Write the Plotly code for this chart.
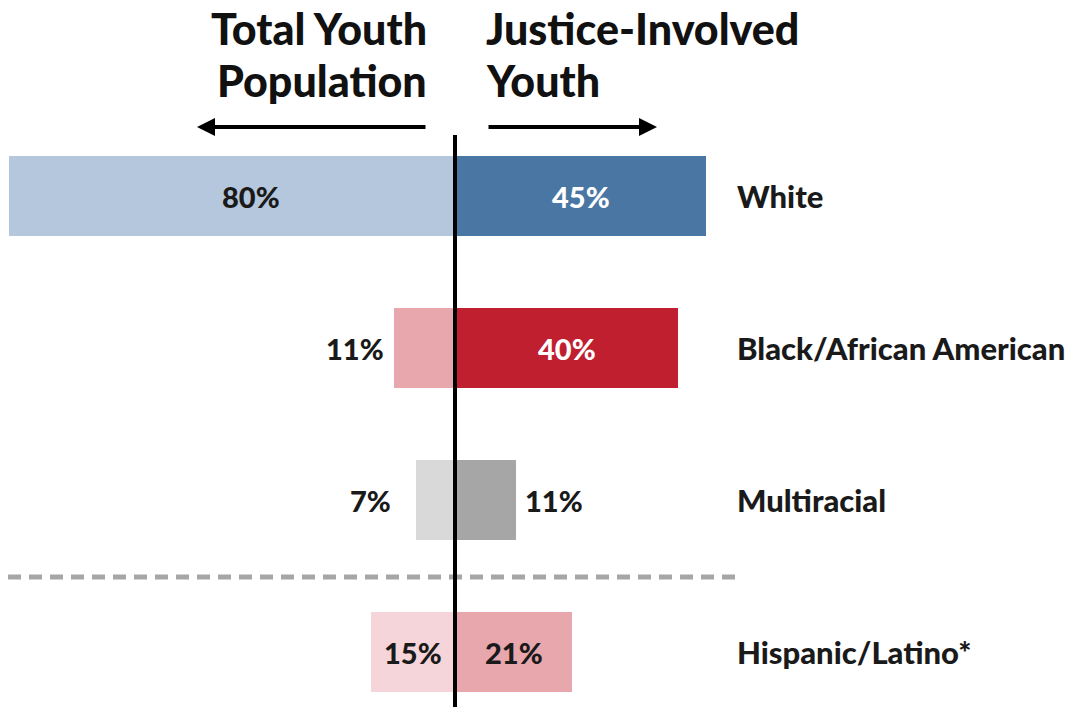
import plotly.graph_objects as go

categories = ["White", "Black/African American", "Multiracial", "Hispanic/Latino*"]
total_youth = [80, 11, 7, 15]
justice_involved = [45, 40, 11, 21]
left_colors = ["#b4c7dc", "#e8a6ad", "#d9d9d9", "#f5d5d9"]
right_colors = ["#4a76a4", "#c01f30", "#a6a6a6", "#e8a6ad"]
left_label_pos = ["inside", "outside", "outside", "inside"]
right_label_pos = ["inside", "inside", "outside", "inside"]
left_text_colors = ["#1a1a1a", "#1a1a1a", "#1a1a1a", "#1a1a1a"]
right_text_colors = ["#ffffff", "#ffffff", "#1a1a1a", "#1a1a1a"]

W, H = 1081, 707
FONT = "Lato, 'Open Sans', sans-serif"
WEIGHT = 900
ypos = list(range(len(categories)))

fig = go.Figure()
fig.add_trace(go.Bar(
    y=ypos, x=[-v for v in total_youth], orientation="h",
    marker=dict(color=left_colors, line=dict(width=0)), width=0.53,
    hoverinfo="skip", showlegend=False))
fig.add_trace(go.Bar(
    y=ypos, x=justice_involved, orientation="h",
    marker=dict(color=right_colors, line=dict(width=0)), width=0.53,
    hoverinfo="skip", showlegend=False))


def f(size, color="#1a1a1a"):
    return dict(size=size, color=color, family=FONT, weight=WEIGHT)


ann = []
lab_font = 29
for i, c in enumerate(categories):
    v = total_youth[i]
    if left_label_pos[i] == "inside":
        ann.append(dict(x=-v / 2, y=i, text=f"{v}%", showarrow=False, xanchor="center",
                        xshift=(19 if v > 50 else 0), font=f(lab_font, left_text_colors[i])))
    else:
        ann.append(dict(x=-v, y=i, text=f"{v}%", showarrow=False, xanchor="right",
                        xshift=-8 if i == 1 else -23, font=f(lab_font, left_text_colors[i])))
    v = justice_involved[i]
    if right_label_pos[i] == "inside":
        ann.append(dict(x=v / 2, y=i, text=f"{v}%", showarrow=False, xanchor="center",
                        font=f(lab_font, right_text_colors[i])))
    else:
        ann.append(dict(x=v, y=i, text=f"{v}%", showarrow=False, xanchor="left",
                        xshift=7, font=f(lab_font, right_text_colors[i])))
    ann.append(dict(x=735 / W, xref="paper", y=i, text=c, showarrow=False,
                    xanchor="left", font=f(31)))

# Headers
hdr = 43
for txt, yy in (("Total Youth", 28), ("Population", 80)):
    ann.append(dict(x=429 / W, y=1 - yy / H, xref="paper", yref="paper", text=txt,
                    showarrow=False, xanchor="right", yanchor="middle", font=f(hdr, "#111")))
for txt, yy in (("Justice-Involved", 28), ("Youth", 80)):
    ann.append(dict(x=484 / W, y=1 - yy / H, xref="paper", yref="paper", text=txt,
                    showarrow=False, xanchor="left", yanchor="middle", font=f(hdr, "#111")))
# Arrows
ann.append(dict(x=197 / W, y=1 - 127 / H, xref="paper", yref="paper",
                ax=230, ay=0, axref="pixel", ayref="pixel",
                text="", showarrow=True, arrowhead=2, arrowsize=0.9, arrowwidth=4,
                arrowcolor="#000", standoff=0))
ann.append(dict(x=657 / W, y=1 - 127 / H, xref="paper", yref="paper",
                ax=-170, ay=0, axref="pixel", ayref="pixel",
                text="", showarrow=True, arrowhead=2, arrowsize=0.9, arrowwidth=4,
                arrowcolor="#000", standoff=0))

shapes = [
    dict(type="line", xref="paper", yref="paper", x0=8 / W, x1=735 / W,
         y0=1 - 577 / H, y1=1 - 577 / H,
         line=dict(color="#a6a6a6", width=5, dash="13px,8px")),
    dict(type="line", xref="x", yref="paper", x0=0, x1=0, y0=0, y1=1 - 135 / H,
         line=dict(color="#000", width=4)),
]

scale = 5.58
fig.update_layout(
    width=W, height=H, margin=dict(l=0, r=0, t=0, b=0),
    paper_bgcolor="white", plot_bgcolor="white",
    barmode="overlay", bargap=0,
    xaxis=dict(range=[-455 / scale, (W - 455) / scale], visible=False, fixedrange=True),
    yaxis=dict(range=[(H - 196) / 152, -196 / 152], visible=False, fixedrange=True),
    annotations=ann, shapes=shapes,
    font=dict(family=FONT),
)
fig.write_html("out.html")
